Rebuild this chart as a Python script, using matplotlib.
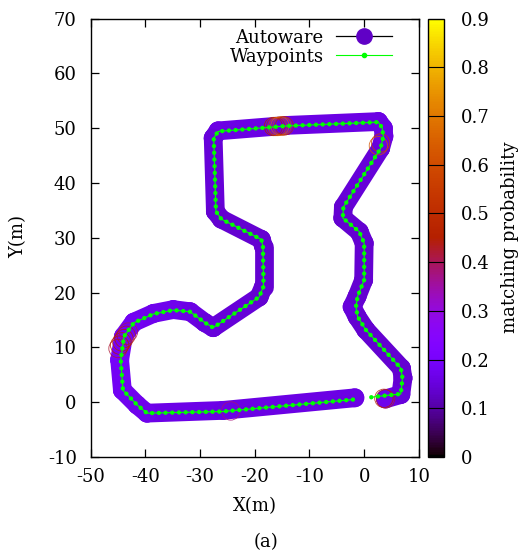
import matplotlib
matplotlib.use('Agg')
import matplotlib.pyplot as plt
import numpy as np
from matplotlib.collections import LineCollection
from matplotlib.lines import Line2D
from matplotlib.colors import Normalize
from matplotlib.cm import ScalarMappable
from matplotlib.ticker import FuncFormatter

plt.rcParams['font.family'] = ['DejaVu Serif']
plt.rcParams['font.size'] = 13

# waypoints of the course (m)
wp_x = [1.3, 3.3, 6.7, 7.0, 6.7, 0.3, -1.2, -1.5, -1.2, 0.0, 0.0, -0.9, -3.9, -3.8,
        3.0, 3.5, 3.3, 2.6, -14.2, -26.7, -27.5, -27.1, -26.1, -18.8, -18.5, -18.4,
        -19.2, -27.6, -29.1, -31.8, -34.9, -38.5, -42.1, -43.9, -44.5, -44.1, -41.5,
        -39.7, -25.8, -1.8]
wp_y = [0.9, 1.15, 1.5, 4.4, 6.2, 13.2, 15.6, 17.4, 19.3, 22.3, 29.0, 31.1, 33.6, 35.6,
        46.3, 48.5, 50.0, 51.1, 50.4, 49.4, 48.2, 34.8, 33.4, 29.7, 28.4, 21.1,
        19.2, 13.6, 14.5, 16.5, 16.8, 16.1, 14.5, 12.0, 7.7, 2.2, -0.5,
        -2.0, -1.7, 0.5]

# autoware localisation result and its matching probability
aw_x = [3.9, 6.7, 7.1, 6.8, 0.3, -1.3, -2.2, -1.3, -0.1, 0.0, -0.9, -3.9, -3.8,
        3.0, 3.6, 3.5, 2.6, -14.2, -26.7, -27.6, -27.2, -26.1, -18.8, -18.4, -18.4,
        -19.2, -27.6, -29.1, -31.8, -34.9, -38.5, -42.1, -44.0, -44.7, -44.2, -41.5,
        -39.7, -25.8, -1.7]
aw_y = [0.6, 1.4, 4.4, 6.2, 13.2, 15.6, 17.4, 19.3, 22.3, 29.0, 31.1, 33.6, 35.6,
        46.3, 48.5, 50.0, 51.2, 50.5, 49.5, 48.2, 34.8, 33.4, 29.7, 28.4, 21.1,
        19.2, 13.6, 14.5, 16.5, 16.9, 16.2, 14.6, 12.0, 7.7, 2.2, -0.5,
        -2.0, -1.5, 0.8]
aw_p = [0.17, 0.15, 0.14, 0.14, 0.14, 0.14, 0.15, 0.14, 0.14, 0.14, 0.14, 0.14, 0.14,
        0.15, 0.16, 0.16, 0.16, 0.16, 0.16, 0.15, 0.14, 0.14, 0.14, 0.14, 0.14,
        0.14, 0.15, 0.15, 0.16, 0.17, 0.17, 0.18, 0.19, 0.19, 0.18, 0.17,
        0.17, 0.16, 0.16]

# spots where the matching probability peaks
hi_x = [-16.6, -16.2, -15.8, -15.4, -15.0, -14.6, 2.6, 3.0,
        -45.0, -44.7, -44.3, -43.9, -43.5, -43.1, -24.4, 3.6, 3.9]
hi_y = [50.3, 50.3, 50.3, 50.4, 50.4, 50.4, 46.8, 47.3,
        9.8, 10.4, 11.0, 11.6, 12.2, 12.8, -1.6, 0.7, 0.6]
hi_p = [0.45, 0.5, 0.6, 0.68, 0.62, 0.5, 0.62, 0.55,
        0.42, 0.45, 0.47, 0.45, 0.43, 0.4, 0.38, 0.45, 0.42]

cmap = plt.get_cmap('gnuplot')
norm = Normalize(0, 0.9)

fig = plt.figure(figsize=(5.21, 5.55), dpi=100)
ax = fig.add_axes([0.174, 0.1766, 0.630, 0.790])
cax = fig.add_axes([0.821, 0.1766, 0.032, 0.790])

# thick band for the autoware trajectory, coloured by probability
pts = np.column_stack([aw_x, aw_y])
segs = np.stack([pts[:-1], pts[1:]], axis=1)
seg_p = (np.array(aw_p[:-1]) + np.array(aw_p[1:])) / 2
band = LineCollection(segs, cmap=cmap, norm=norm, linewidths=13.5,
                      capstyle='round', joinstyle='round')
band.set_array(seg_p)
ax.add_collection(band)
ax.scatter(aw_x, aw_y, c=aw_p, cmap=cmap, norm=norm, s=185, edgecolors='none',
           zorder=2)
ax.scatter(hi_x, hi_y, facecolors='none', edgecolors=cmap(norm(hi_p)), s=175,
           linewidths=0.6, alpha=0.85, zorder=3)

# waypoints: thin green line with dots along it
ax.plot(wp_x, wp_y, color='#00ff00', lw=0.8, zorder=4)
ax.plot(wp_x, wp_y, color='#00ff00', lw=3.2, linestyle=(0, (0.01, 1.5)),
        dash_capstyle='round', zorder=4)

ax.set_xlim(-50, 10)
ax.set_ylim(-10, 70)
ax.set_xticks(range(-50, 11, 10))
ax.set_yticks(range(-10, 71, 10))
fmt = FuncFormatter(lambda v, p: '%d' % v)
ax.xaxis.set_major_formatter(fmt)
ax.yaxis.set_major_formatter(fmt)
ax.tick_params(direction='in', length=6, width=0.9, top=True, right=True)
ax.tick_params(axis='x', pad=8)
ax.tick_params(axis='y', pad=10)
for s in ax.spines.values():
    s.set_linewidth(1.0)

handles = [Line2D([], [], color='black', lw=0.9, marker='o', markersize=11,
                  markerfacecolor=cmap(norm(0.13)), markeredgecolor=cmap(norm(0.13))),
           Line2D([], [], color='#00ff00', lw=0.8, marker='o', markersize=3)]
ax.legend(handles, ['Autoware', 'Waypoints'], loc='upper right',
          bbox_to_anchor=(0.93, 0.985), frameon=False, markerfirst=False,
          handlelength=3.1, handletextpad=0.7, labelspacing=0.05,
          borderpad=0.2, borderaxespad=0)

sm = ScalarMappable(norm=norm, cmap=cmap)
cb = fig.colorbar(sm, cax=cax)
cb.set_ticks(np.arange(0, 0.91, 0.1))
cb.ax.yaxis.set_major_formatter(FuncFormatter(lambda v, p: '0' if v < 0.05 else '%.1f' % v))
cb.ax.tick_params(length=0, pad=12)
cb.outline.set_linewidth(1.0)
for t in np.arange(0.1, 0.85, 0.1):
    cax.axhline(t, color='black', lw=0.8)

fig.text(0.49, 0.088, 'X(m)', ha='center', va='center')
fig.text(0.035, 0.573, 'Y(m)', ha='center', va='center', rotation=90)
fig.text(0.978, 0.573, 'matching probability', ha='center', va='center', rotation=90)
fig.text(0.511, 0.024, '(a)', ha='center', va='center')

fig.savefig('out.png', dpi=100)
